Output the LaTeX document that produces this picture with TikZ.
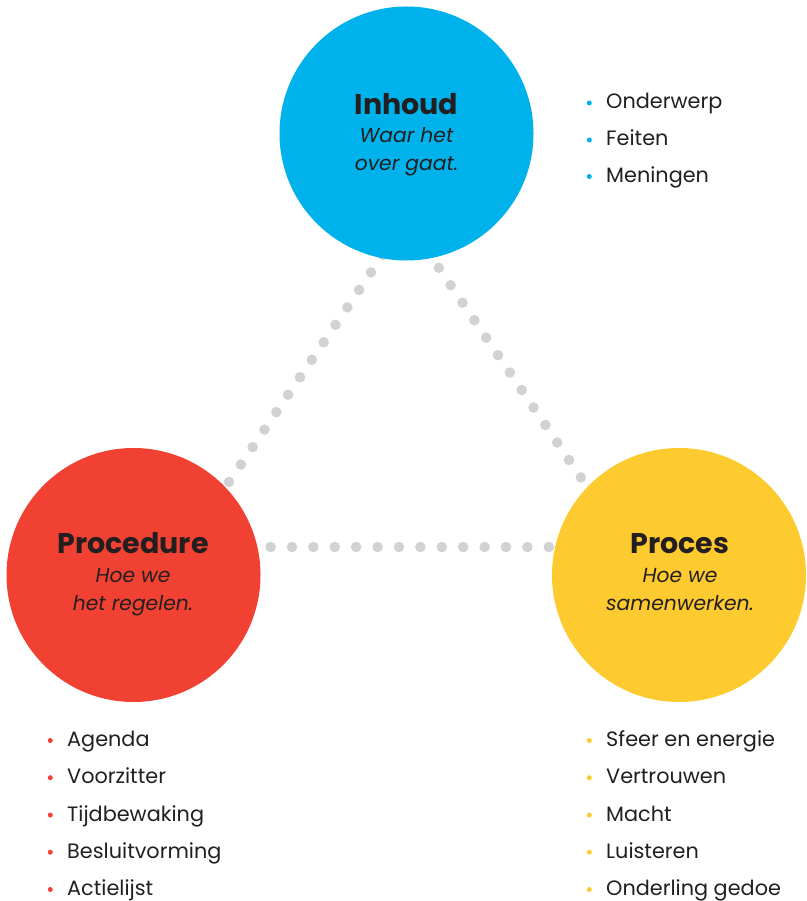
\documentclass[tikz,border=0pt]{standalone}
\usepackage{fontspec}
\setmainfont{Poppins}
\usetikzlibrary{calc, backgrounds}
\definecolor{inhoudblue}{RGB}{0,178,235}
\definecolor{procedurered}{RGB}{240,65,50}
\definecolor{procesyellow}{RGB}{253,202,48}
\definecolor{dotgray}{RGB}{209,210,212}
\definecolor{inkdark}{RGB}{35,31,32}
\tikzset{
  blob/.style={circle, fill=#1, minimum size=254pt, inner sep=0pt},
  circtitle/.style={anchor=base, inner sep=0pt, text=inkdark, font=\fontsize{28.5}{30}\selectfont\bfseries},
  subtitle/.style={anchor=base, inner sep=0pt, align=center, text=inkdark, font=\fontsize{20.3}{28}\selectfont\itshape},
  listitem/.style={anchor=base west, inner sep=0pt, text height=12pt, text depth=0pt, text=inkdark,
    font=\fontsize{20.8}{24}\selectfont,
    label={[circle, fill=#1, inner sep=0pt, minimum size=5pt, xshift=-14pt]left:{}}},
  dotline/.style={dotgray, line width=10.6pt, line cap=round, dash pattern=on 0pt off #1},
}

\begin{document}
\begin{tikzpicture}[x=1pt, y=-1pt]
  \useasboundingbox (0,0) rectangle (806,901);

  % the three circles
  \node[blob=inhoudblue] (inhoud) at (406.5,133.5) {};
  \node[blob=procedurered] (procedure) at (133.5,575) {};
  \node[blob=procesyellow] (proces) at (679,575) {};

  % dotted triangle behind the circles
  \coordinate (apex) at ($(inhoud)+(0,86.5)$);
  \coordinate (cornerL) at ($(procedure)+(51.5,-28)$);
  \coordinate (cornerR) at ($(proces)+(-51,-28)$);
  \begin{scope}[on background layer]
    \draw[dotline=21.1pt] (apex) -- (cornerL);
    \draw[dotline=21.1pt, dash phase=5.6pt] (apex) -- (cornerR);
    \draw[dotline=21.4pt] (cornerL) -- (cornerR);
  \end{scope}

  % texts in the circles (subtitle placed on its last baseline)
  \node[circtitle] (inhoudtitle) at (406.5,115) {Inhoud};
  \node[subtitle] (inhoudsub) at (406.5,171) {Waar het\\over gaat.};
  \node[circtitle] (proceduretitle) at (133,553) {Procedure};
  \node[subtitle] (proceduresub) at (133,610) {Hoe we\\het regelen.};
  \node[circtitle] (procestitle) at (680,553) {Proces};
  \node[subtitle] (processub) at (680,610) {Hoe we\\samenwerken.};

  % lists
  \node[listitem=inhoudblue] (onderwerp) at (606,109) {Onderwerp};
  \node[listitem=inhoudblue] (feiten) at (606,146) {Feiten};
  \node[listitem=inhoudblue] (meningen) at (606,182.5) {Meningen};

  \node[listitem=procedurered] (agenda) at (67,746.5) {Agenda};
  \node[listitem=procedurered] (voorzitter) at (67,783.7) {Voorzitter};
  \node[listitem=procedurered] (tijdbewaking) at (67,821) {Tijdbewaking};
  \node[listitem=procedurered] (besluitvorming) at (67,858.2) {Besluitvorming};
  \node[listitem=procedurered] (actielijst) at (67,895.5) {Actielijst};

  \node[listitem=procesyellow] (sfeer) at (606,746.5) {Sfeer en energie};
  \node[listitem=procesyellow] (vertrouwen) at (606,783.7) {Vertrouwen};
  \node[listitem=procesyellow] (macht) at (606,821) {Macht};
  \node[listitem=procesyellow] (luisteren) at (606,858.2) {Luisteren};
  \node[listitem=procesyellow] (gedoe) at (606,895.5) {Onderling gedoe};
\end{tikzpicture}
\end{document}
